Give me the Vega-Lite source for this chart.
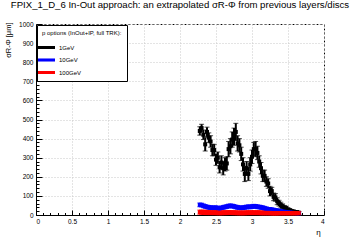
{
  "$schema": "https://vega.github.io/schema/vega-lite/v6.json",
  "autosize": "none",
  "width": 288,
  "height": 191,
  "padding": {"left": 36, "top": 24, "right": 36, "bottom": 25},
  "background": "white",
  "title": {
    "text": "FPIX_1_D_6 In-Out approach: an extrapolated σR-Φ from previous layers/discs",
    "font": "Liberation Sans",
    "fontSize": 9.6,
    "fontWeight": "normal",
    "color": "black",
    "anchor": "middle",
    "offset": 11
  },
  "config": {
    "view": {"stroke": "black", "strokeDash": [2, 2], "strokeWidth": 1},
    "axis": {
      "labelFont": "Liberation Sans",
      "titleFont": "Liberation Sans",
      "labelColor": "black",
      "titleColor": "black",
      "domainColor": "black",
      "tickColor": "black",
      "gridColor": "#c8c8c8",
      "gridDash": [1, 2],
      "labelFontSize": 6.5,
      "titleFontWeight": "normal"
    },
    "legend": {
      "orient": "none",
      "legendX": 1,
      "legendY": 1
    }
  },
  "data": {
    "values": [
      {"s": "1GeV", "eta": 2.275, "val": 440, "err": 22},
      {"s": "1GeV", "eta": 2.3, "val": 455, "err": 20},
      {"s": "1GeV", "eta": 2.325, "val": 420, "err": 25},
      {"s": "1GeV", "eta": 2.35, "val": 370, "err": 35},
      {"s": "1GeV", "eta": 2.375, "val": 435, "err": 25},
      {"s": "1GeV", "eta": 2.4, "val": 405, "err": 25},
      {"s": "1GeV", "eta": 2.425, "val": 385, "err": 30},
      {"s": "1GeV", "eta": 2.45, "val": 340, "err": 30},
      {"s": "1GeV", "eta": 2.475, "val": 340, "err": 30},
      {"s": "1GeV", "eta": 2.5, "val": 290, "err": 30},
      {"s": "1GeV", "eta": 2.525, "val": 300, "err": 30},
      {"s": "1GeV", "eta": 2.55, "val": 250, "err": 30},
      {"s": "1GeV", "eta": 2.575, "val": 275, "err": 35},
      {"s": "1GeV", "eta": 2.6, "val": 245, "err": 35},
      {"s": "1GeV", "eta": 2.625, "val": 265, "err": 35},
      {"s": "1GeV", "eta": 2.65, "val": 270, "err": 35},
      {"s": "1GeV", "eta": 2.675, "val": 345, "err": 40},
      {"s": "1GeV", "eta": 2.7, "val": 360, "err": 40},
      {"s": "1GeV", "eta": 2.725, "val": 395, "err": 40},
      {"s": "1GeV", "eta": 2.75, "val": 410, "err": 45},
      {"s": "1GeV", "eta": 2.775, "val": 435, "err": 45},
      {"s": "1GeV", "eta": 2.8, "val": 375, "err": 40},
      {"s": "1GeV", "eta": 2.825, "val": 365, "err": 35},
      {"s": "1GeV", "eta": 2.85, "val": 320, "err": 35},
      {"s": "1GeV", "eta": 2.875, "val": 265, "err": 35},
      {"s": "1GeV", "eta": 2.9, "val": 215, "err": 40},
      {"s": "1GeV", "eta": 2.925, "val": 245, "err": 35},
      {"s": "1GeV", "eta": 2.95, "val": 215, "err": 35},
      {"s": "1GeV", "eta": 2.975, "val": 265, "err": 35},
      {"s": "1GeV", "eta": 3.0, "val": 305, "err": 35},
      {"s": "1GeV", "eta": 3.025, "val": 345, "err": 35},
      {"s": "1GeV", "eta": 3.05, "val": 345, "err": 40},
      {"s": "1GeV", "eta": 3.075, "val": 325, "err": 35},
      {"s": "1GeV", "eta": 3.1, "val": 280, "err": 30},
      {"s": "1GeV", "eta": 3.125, "val": 245, "err": 30},
      {"s": "1GeV", "eta": 3.15, "val": 205, "err": 30},
      {"s": "1GeV", "eta": 3.175, "val": 205, "err": 30},
      {"s": "1GeV", "eta": 3.2, "val": 175, "err": 25},
      {"s": "1GeV", "eta": 3.225, "val": 165, "err": 25},
      {"s": "1GeV", "eta": 3.25, "val": 125, "err": 25},
      {"s": "1GeV", "eta": 3.275, "val": 125, "err": 20},
      {"s": "1GeV", "eta": 3.3, "val": 95, "err": 20},
      {"s": "1GeV", "eta": 3.325, "val": 92, "err": 20},
      {"s": "1GeV", "eta": 3.35, "val": 72, "err": 18},
      {"s": "1GeV", "eta": 3.375, "val": 62, "err": 15},
      {"s": "1GeV", "eta": 3.4, "val": 52, "err": 15},
      {"s": "1GeV", "eta": 3.425, "val": 46, "err": 12},
      {"s": "1GeV", "eta": 3.45, "val": 38, "err": 12},
      {"s": "1GeV", "eta": 3.475, "val": 36, "err": 10},
      {"s": "1GeV", "eta": 3.5, "val": 28, "err": 10},
      {"s": "1GeV", "eta": 3.525, "val": 25, "err": 8},
      {"s": "1GeV", "eta": 3.55, "val": 20, "err": 8},
      {"s": "1GeV", "eta": 3.575, "val": 18, "err": 8},
      {"s": "1GeV", "eta": 3.6, "val": 15, "err": 6},
      {"s": "1GeV", "eta": 3.625, "val": 15, "err": 6},
      {"s": "1GeV", "eta": 3.65, "val": 12, "err": 6},
      {"s": "10GeV", "eta": 2.275, "val": 53, "err": 10},
      {"s": "10GeV", "eta": 2.3, "val": 52, "err": 10},
      {"s": "10GeV", "eta": 2.325, "val": 48, "err": 10},
      {"s": "10GeV", "eta": 2.35, "val": 45, "err": 10},
      {"s": "10GeV", "eta": 2.375, "val": 42, "err": 10},
      {"s": "10GeV", "eta": 2.4, "val": 40, "err": 10},
      {"s": "10GeV", "eta": 2.425, "val": 38, "err": 10},
      {"s": "10GeV", "eta": 2.45, "val": 38, "err": 10},
      {"s": "10GeV", "eta": 2.475, "val": 37, "err": 10},
      {"s": "10GeV", "eta": 2.5, "val": 38, "err": 10},
      {"s": "10GeV", "eta": 2.525, "val": 36, "err": 10},
      {"s": "10GeV", "eta": 2.55, "val": 35, "err": 10},
      {"s": "10GeV", "eta": 2.575, "val": 37, "err": 10},
      {"s": "10GeV", "eta": 2.6, "val": 40, "err": 10},
      {"s": "10GeV", "eta": 2.625, "val": 42, "err": 10},
      {"s": "10GeV", "eta": 2.65, "val": 44, "err": 10},
      {"s": "10GeV", "eta": 2.675, "val": 47, "err": 10},
      {"s": "10GeV", "eta": 2.7, "val": 48, "err": 10},
      {"s": "10GeV", "eta": 2.725, "val": 47, "err": 10},
      {"s": "10GeV", "eta": 2.75, "val": 45, "err": 10},
      {"s": "10GeV", "eta": 2.775, "val": 42, "err": 10},
      {"s": "10GeV", "eta": 2.8, "val": 40, "err": 10},
      {"s": "10GeV", "eta": 2.825, "val": 38, "err": 10},
      {"s": "10GeV", "eta": 2.85, "val": 37, "err": 10},
      {"s": "10GeV", "eta": 2.875, "val": 38, "err": 10},
      {"s": "10GeV", "eta": 2.9, "val": 40, "err": 10},
      {"s": "10GeV", "eta": 2.925, "val": 42, "err": 10},
      {"s": "10GeV", "eta": 2.95, "val": 43, "err": 10},
      {"s": "10GeV", "eta": 2.975, "val": 42, "err": 10},
      {"s": "10GeV", "eta": 3.0, "val": 44, "err": 10},
      {"s": "10GeV", "eta": 3.025, "val": 46, "err": 10},
      {"s": "10GeV", "eta": 3.05, "val": 45, "err": 10},
      {"s": "10GeV", "eta": 3.075, "val": 43, "err": 10},
      {"s": "10GeV", "eta": 3.1, "val": 42, "err": 10},
      {"s": "10GeV", "eta": 3.125, "val": 40, "err": 10},
      {"s": "10GeV", "eta": 3.15, "val": 38, "err": 10},
      {"s": "10GeV", "eta": 3.175, "val": 35, "err": 10},
      {"s": "10GeV", "eta": 3.2, "val": 33, "err": 9},
      {"s": "10GeV", "eta": 3.225, "val": 30, "err": 9},
      {"s": "10GeV", "eta": 3.25, "val": 30, "err": 9},
      {"s": "10GeV", "eta": 3.275, "val": 28, "err": 9},
      {"s": "10GeV", "eta": 3.3, "val": 27, "err": 8},
      {"s": "10GeV", "eta": 3.325, "val": 25, "err": 8},
      {"s": "10GeV", "eta": 3.35, "val": 23, "err": 8},
      {"s": "10GeV", "eta": 3.375, "val": 22, "err": 8},
      {"s": "10GeV", "eta": 3.4, "val": 20, "err": 7},
      {"s": "10GeV", "eta": 3.425, "val": 18, "err": 7},
      {"s": "10GeV", "eta": 3.45, "val": 17, "err": 7},
      {"s": "10GeV", "eta": 3.475, "val": 15, "err": 6},
      {"s": "10GeV", "eta": 3.5, "val": 14, "err": 6},
      {"s": "10GeV", "eta": 3.525, "val": 13, "err": 6},
      {"s": "10GeV", "eta": 3.55, "val": 12, "err": 6},
      {"s": "10GeV", "eta": 3.575, "val": 11, "err": 6},
      {"s": "10GeV", "eta": 3.6, "val": 10, "err": 6},
      {"s": "10GeV", "eta": 3.625, "val": 10, "err": 6},
      {"s": "10GeV", "eta": 3.65, "val": 9, "err": 6},
      {"s": "100GeV", "eta": 2.275, "val": 15, "err": 11},
      {"s": "100GeV", "eta": 2.3, "val": 15, "err": 11},
      {"s": "100GeV", "eta": 2.325, "val": 14, "err": 11},
      {"s": "100GeV", "eta": 2.35, "val": 14, "err": 11},
      {"s": "100GeV", "eta": 2.375, "val": 13, "err": 11},
      {"s": "100GeV", "eta": 2.4, "val": 13, "err": 10},
      {"s": "100GeV", "eta": 2.425, "val": 12, "err": 10},
      {"s": "100GeV", "eta": 2.45, "val": 12, "err": 10},
      {"s": "100GeV", "eta": 2.475, "val": 12, "err": 10},
      {"s": "100GeV", "eta": 2.5, "val": 12, "err": 10},
      {"s": "100GeV", "eta": 2.525, "val": 11, "err": 10},
      {"s": "100GeV", "eta": 2.55, "val": 11, "err": 10},
      {"s": "100GeV", "eta": 2.575, "val": 11, "err": 10},
      {"s": "100GeV", "eta": 2.6, "val": 12, "err": 10},
      {"s": "100GeV", "eta": 2.625, "val": 12, "err": 10},
      {"s": "100GeV", "eta": 2.65, "val": 12, "err": 10},
      {"s": "100GeV", "eta": 2.675, "val": 13, "err": 10},
      {"s": "100GeV", "eta": 2.7, "val": 13, "err": 10},
      {"s": "100GeV", "eta": 2.725, "val": 12, "err": 10},
      {"s": "100GeV", "eta": 2.75, "val": 12, "err": 10},
      {"s": "100GeV", "eta": 2.775, "val": 12, "err": 10},
      {"s": "100GeV", "eta": 2.8, "val": 11, "err": 10},
      {"s": "100GeV", "eta": 2.825, "val": 11, "err": 10},
      {"s": "100GeV", "eta": 2.85, "val": 11, "err": 10},
      {"s": "100GeV", "eta": 2.875, "val": 11, "err": 10},
      {"s": "100GeV", "eta": 2.9, "val": 11, "err": 10},
      {"s": "100GeV", "eta": 2.925, "val": 12, "err": 10},
      {"s": "100GeV", "eta": 2.95, "val": 12, "err": 10},
      {"s": "100GeV", "eta": 2.975, "val": 12, "err": 10},
      {"s": "100GeV", "eta": 3.0, "val": 12, "err": 10},
      {"s": "100GeV", "eta": 3.025, "val": 12, "err": 10},
      {"s": "100GeV", "eta": 3.05, "val": 12, "err": 10},
      {"s": "100GeV", "eta": 3.075, "val": 12, "err": 10},
      {"s": "100GeV", "eta": 3.1, "val": 12, "err": 10},
      {"s": "100GeV", "eta": 3.125, "val": 11, "err": 10},
      {"s": "100GeV", "eta": 3.15, "val": 11, "err": 10},
      {"s": "100GeV", "eta": 3.175, "val": 11, "err": 10},
      {"s": "100GeV", "eta": 3.2, "val": 11, "err": 10},
      {"s": "100GeV", "eta": 3.225, "val": 11, "err": 10},
      {"s": "100GeV", "eta": 3.25, "val": 11, "err": 10},
      {"s": "100GeV", "eta": 3.275, "val": 10, "err": 10},
      {"s": "100GeV", "eta": 3.3, "val": 10, "err": 10},
      {"s": "100GeV", "eta": 3.325, "val": 10, "err": 10},
      {"s": "100GeV", "eta": 3.35, "val": 10, "err": 10},
      {"s": "100GeV", "eta": 3.375, "val": 10, "err": 9},
      {"s": "100GeV", "eta": 3.4, "val": 10, "err": 9},
      {"s": "100GeV", "eta": 3.425, "val": 10, "err": 9},
      {"s": "100GeV", "eta": 3.45, "val": 10, "err": 9},
      {"s": "100GeV", "eta": 3.475, "val": 10, "err": 9},
      {"s": "100GeV", "eta": 3.5, "val": 10, "err": 9},
      {"s": "100GeV", "eta": 3.525, "val": 10, "err": 9},
      {"s": "100GeV", "eta": 3.55, "val": 10, "err": 9},
      {"s": "100GeV", "eta": 3.575, "val": 10, "err": 9},
      {"s": "100GeV", "eta": 3.6, "val": 10, "err": 9},
      {"s": "100GeV", "eta": 3.625, "val": 10, "err": 9},
      {"s": "100GeV", "eta": 3.65, "val": 10, "err": 9}
    ]
  },
  "resolve": {"axis": {"x": "independent", "y": "independent"}},
  "layer": [
    {
      "mark": {"type": "errorbar", "ticks": {"size": 5, "strokeWidth": 1.6}, "rule": {"strokeWidth": 2}},
      "encoding": {
        "x": {
          "field": "eta", "type": "quantitative",
          "scale": {"domain": [0, 4], "nice": false},
          "axis": {
            "orient": "bottom",
            "values": [0, 0.5, 1, 1.5, 2, 2.5, 3, 3.5, 4],
            "format": "~g",
            "tickSize": -5,
            "labelPadding": 8,
            "grid": true,
            "title": "η",
            "titleFontSize": 8,
            "titleX": 282,
            "titleY": 19,
            "titleBaseline": "alphabetic",
            "titleAlign": "center"
          }
        },
        "y": {
          "field": "val", "type": "quantitative",
          "scale": {"domain": [0, 1000], "nice": false},
          "axis": {
            "orient": "left",
            "values": [0, 100, 200, 300, 400, 500, 600, 700, 800, 900, 1000],
            "format": "d",
            "tickSize": -6,
            "labelPadding": 9,
            "grid": true,
            "title": "σR-Φ [μm]",
            "titleFontSize": 7.5,
            "titleAngle": -90,
            "titleX": -28,
            "titleY": -2,
            "titleAlign": "right",
            "titleBaseline": "middle"
          }
        },
        "yError": {"field": "err"},
        "color": {
          "field": "s", "type": "nominal",
          "scale": {"domain": ["1GeV", "10GeV", "100GeV"], "range": ["black", "#0000ff", "#ff0000"]},
          "sort": ["1GeV", "10GeV", "100GeV"],
          "legend": {
            "title": "p options (InOut+IP, full TRK):",
            "titleFont": "Liberation Sans",
            "titleFontSize": 6,
            "titleFontWeight": "normal",
            "titleColor": "black",
            "titlePadding": 7,
            "labelFont": "Liberation Sans",
            "labelFontSize": 6,
            "labelColor": "black",
            "symbolType": "M-2,-0.36H2V0.36H-2Z",
            "symbolSize": 72,
            "symbolStrokeWidth": 0,
            "symbolOpacity": 1,
            "labelOffset": 8,
            "rowPadding": 4.5,
            "padding": 5,
            "fillColor": "white",
            "strokeColor": "black",
            "offset": 0
          }
        }
      }
    },
    {
      "mark": {"type": "point", "shape": "square", "filled": true, "size": 16, "opacity": 1},
      "encoding": {
        "x": {
          "field": "eta", "type": "quantitative",
          "axis": {
            "orient": "bottom",
            "values": [0.1, 0.2, 0.3, 0.4, 0.6, 0.7, 0.8, 0.9, 1.1, 1.2, 1.3, 1.4, 1.6, 1.7, 1.8, 1.9, 2.1, 2.2, 2.3, 2.4, 2.6, 2.7, 2.8, 2.9, 3.1, 3.2, 3.3, 3.4, 3.6, 3.7, 3.8, 3.9],
            "tickSize": -2.5,
            "labels": false,
            "domain": false,
            "grid": false,
            "title": null
          }
        },
        "y": {
          "field": "val", "type": "quantitative",
          "axis": {
            "orient": "left",
            "values": [20, 40, 60, 80, 120, 140, 160, 180, 220, 240, 260, 280, 320, 340, 360, 380, 420, 440, 460, 480, 520, 540, 560, 580, 620, 640, 660, 680, 720, 740, 760, 780, 820, 840, 860, 880, 920, 940, 960, 980],
            "tickSize": -3,
            "labels": false,
            "domain": false,
            "grid": false,
            "title": null
          }
        },
        "color": {"field": "s", "type": "nominal", "sort": ["1GeV", "10GeV", "100GeV"]}
      }
    }
  ]
}
